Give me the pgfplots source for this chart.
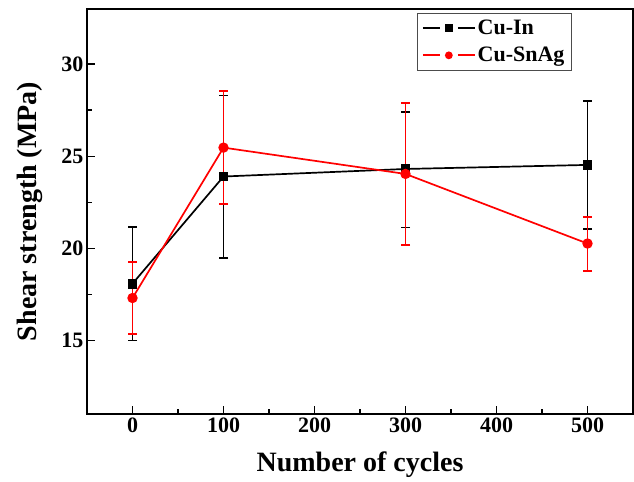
\documentclass[border=0pt]{standalone}
\usepackage{pgfplots}
\pgfplotsset{compat=1.18}
\usepackage{fontspec}
\setmainfont{Liberation Serif}

\pgfplotstableread{
x    y      ep    em
0    18.08  3.08  3.08
100  23.90  4.41  4.43
300  24.31  3.11  3.18
500  24.53  3.47  3.49
}\cuin

\pgfplotstableread{
x    y      ep    em
0    17.30  1.96  1.96
100  25.47  3.08  3.06
300  24.04  3.85  3.86
500  20.26  1.45  1.49
}\cusnag

\begin{document}
\begin{tikzpicture}
\begin{axis}[
    name=ax,
    scale only axis,
    width=546pt, height=405pt,
    xmin=-50, xmax=550,
    ymin=11, ymax=33,
    xtick={0,100,200,300,400,500},
    ytick={15,20,25,30},
    minor x tick num=1,
    minor y tick num=1,
    tick pos=left,
    tick align=inside,
    major tick length=8pt,
    minor tick length=5pt,
    every tick/.style={black, line width=1.5pt},
    axis line style={line width=1.8pt},
    /pgf/number format/assume math mode=true,
    ticklabel style={font=\fontsize{22}{24}\selectfont\bfseries},
    xlabel={Number of cycles},
    ylabel={Shear strength (MPa)},
    label style={font=\fontsize{28}{30}\selectfont\bfseries},
    xlabel style={at={(axis description cs:0.5,-0.126)}, anchor=center},
    ylabel style={at={(axis description cs:-0.104,0.5)}, anchor=center},
    legend style={
        at={(0.604,0.99)}, anchor=north west,
        draw=black!70,
        font=\fontsize{22}{24}\selectfont\bfseries,
        row sep=7pt, inner xsep=5pt, inner ysep=5pt},
    every legend image post/.append style={line width=1.7pt},
    legend cell align=left,
    legend image code/.code={
        \draw[#1, mark=none] (0pt,0pt) -- (17pt,0pt);
        \draw[#1, mark=none] (35pt,0pt) -- (52pt,0pt);
        \draw[#1, mark size=3pt] plot coordinates {(26pt,0pt)};
    },
    error bars/error bar style={line width=1.6pt},
    error bars/error mark options={rotate=90, mark size=4.5pt, line width=1.6pt},
]
\addplot[black, line width=1.7pt, mark=square*, mark size=4pt,
    error bars/.cd, y dir=both, y explicit]
    table[x=x, y=y, y error plus=ep, y error minus=em] {\cuin};
\addlegendentry{Cu-In}
\addplot[red, line width=1.7pt, mark=*, mark size=4.3pt,
    error bars/.cd, y dir=both, y explicit]
    table[x=x, y=y, y error plus=ep, y error minus=em] {\cusnag};
\addlegendentry{Cu-SnAg}
\end{axis}
\path (ax.south west) ++(-87pt,-65pt) (ax.north east) ++(1pt,9pt);
\end{tikzpicture}
\end{document}
